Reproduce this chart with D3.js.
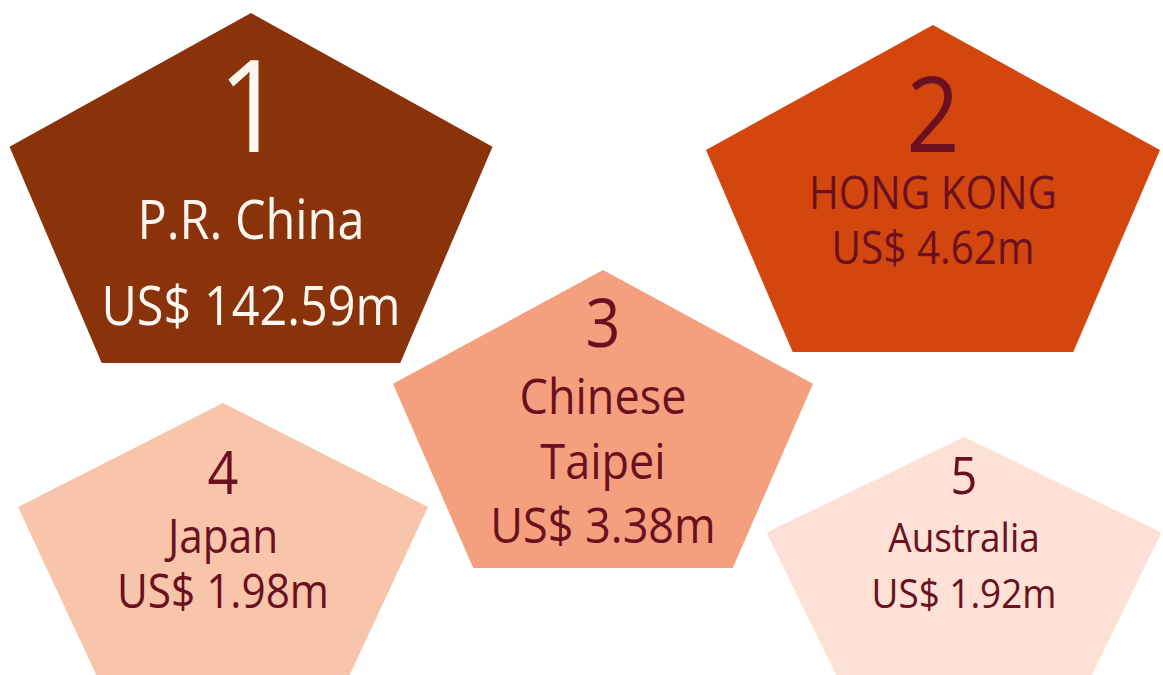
<html>
  <head>
    <meta charset="utf-8">
    <style>
      body { margin: 0; background: #ffffff; }
      svg { display: block; }
      text { font-family: "Open Sans", "Noto Sans", sans-serif; text-anchor: middle; }
    </style>
    <script src="https://d3js.org/d3.v7.min.js"></script>
  </head>
  <body>
    <div id="chart"></div>
    <script>
      // data: top 5 markets
      var ranks = [1, 2, 3, 4, 5];
      var nameLines = [["P.R. China"], ["HONG KONG"], ["Chinese", "Taipei"], ["Japan"], ["Australia"]];
      var values = [142.59, 4.62, 3.38, 1.98, 1.92];

      // styles
      var fills = ["#8a3209", "#d3470e", "#f4a07e", "#f8c4aa", "#fde1d6"];
      var inkColors = ["#fdf7f0", "#6b1020", "#6b1020", "#6b1020", "#6b1020"];

      // layout: pentagon box (centre x, top, width, height), font sizes, baselines
      var layout = [
        {cx: 251, top: 13,  w: 483, h: 350, rankSize: 128, size: 54, rankY: 152, lineY: [239, 325]},
        {cx: 933, top: 25,  w: 454, h: 327, rankSize: 104, size: 45, rankY: 152, lineY: [209, 264]},
        {cx: 603, top: 270, w: 420, h: 298, rankSize: 68,  size: 50, rankY: 347, lineY: [414, 479, 543]},
        {cx: 223, top: 403, w: 410, h: 272, rankSize: 60,  size: 47, rankY: 494, lineY: [553, 608]},
        {cx: 964, top: 437, w: 395, h: 250, rankSize: 52,  size: 41, rankY: 494, lineY: [552, 608]}
      ];

      var width = 1163, height = 675;
      var fmt = d3.format(".2f");
      var color = d3.scaleOrdinal().domain(ranks).range(fills);
      var ink = d3.scaleOrdinal().domain(ranks).range(inkColors);

      // unit regular pentagon, point up
      var unit = d3.range(5).map(function(k) {
        var a = k * 2 * Math.PI / 5;
        return [Math.sin(a), -Math.cos(a)];
      });
      var ux = d3.extent(unit, function(p) { return p[0]; });
      var uy = d3.extent(unit, function(p) { return p[1]; });

      var svg = d3.select("#chart").append("svg")
          .attr("width", width).attr("height", height);

      var data = ranks.map(function(r, i) {
        return {rank: r, lines: nameLines[i].concat(["US$ " + fmt(values[i]) + "m"]), box: layout[i]};
      });

      var shapes = svg.selectAll("g.market")
          .data(data).enter()
          .append("g").attr("class", "market");

      shapes.append("path")
          .attr("d", function(d) {
            var b = d.box;
            var x = d3.scaleLinear().domain(ux).range([b.cx - b.w / 2, b.cx + b.w / 2]);
            var y = d3.scaleLinear().domain(uy).range([b.top, b.top + b.h]);
            return d3.line().x(function(p) { return x(p[0]); }).y(function(p) { return y(p[1]); })(unit) + "Z";
          })
          .attr("fill", function(d) { return color(d.rank); });

      // rank number
      shapes.append("text")
          .attr("transform", function(d) { return "translate(" + d.box.cx + "," + d.box.rankY + ") scale(0.9,1)"; })
          .style("font-size", function(d) { return d.box.rankSize + "px"; })
          .attr("fill", function(d) { return ink(d.rank); })
          .text(function(d) { return d.rank; });

      // name and value lines
      shapes.each(function(d) {
        d3.select(this).selectAll("text.line")
            .data(d.lines).enter()
            .append("text").attr("class", "line")
            .attr("transform", function(t, j) { return "translate(" + d.box.cx + "," + d.box.lineY[j] + ") scale(0.9,1)"; })
            .style("font-size", d.box.size + "px")
            .attr("fill", ink(d.rank))
            .text(function(t) { return t; });
      });
    </script>
  </body>
</html>
